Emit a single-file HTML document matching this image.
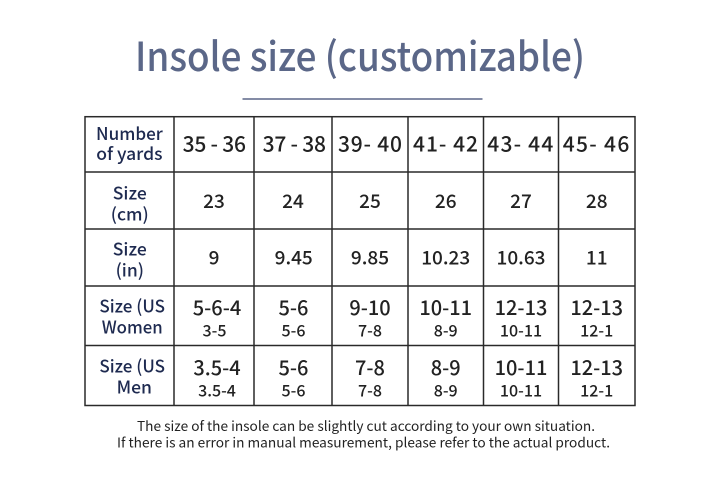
<!DOCTYPE html>
<html>
<head>
<meta charset="utf-8">
<style>
html,body{margin:0;padding:0;background:#fff;}
svg{display:block;}
text{font-family:"Noto Sans CJK SC","Liberation Sans",sans-serif;font-weight:500;}
.lab{fill:#1e2a50;font-size:17.5px;}
.hd{fill:#222;font-size:21px;}
.v{fill:#222;font-size:19px;}
.b{fill:#222;font-size:20px;}
.s{fill:#222;font-size:16px;}
.fn{font-weight:400;}
</style>
</head>
<body>
<svg width="715" height="477" viewBox="0 0 715 477" xmlns="http://www.w3.org/2000/svg">
<rect width="715" height="477" fill="#fff"/>
<text x="360" y="71" text-anchor="middle" font-size="40" fill="#5b6788" textLength="450" lengthAdjust="spacingAndGlyphs">Insole size (customizable)</text>
<line x1="242.5" y1="99" x2="482.5" y2="99" stroke="#5b6788" stroke-width="1.6"/>

<g stroke="#2a2a2a" stroke-width="1.5" fill="none">
<rect x="85" y="116.7" width="550" height="288.8"/>
<line x1="174" y1="116.7" x2="174" y2="405.5"/>
<line x1="254" y1="116.7" x2="254" y2="405.5"/>
<line x1="332" y1="116.7" x2="332" y2="405.5"/>
<line x1="408" y1="116.7" x2="408" y2="405.5"/>
<line x1="483.5" y1="116.7" x2="483.5" y2="405.5"/>
<line x1="558.5" y1="116.7" x2="558.5" y2="405.5"/>
<line x1="85" y1="172" x2="635" y2="172"/>
<line x1="85" y1="229" x2="635" y2="229"/>
<line x1="85" y1="286" x2="635" y2="286"/>
<line x1="85" y1="345.5" x2="635" y2="345.5"/>
</g>

<g text-anchor="middle">
<text class="lab" x="129.4" y="140" textLength="66.7" lengthAdjust="spacingAndGlyphs">Number</text>
<text class="lab" x="129.4" y="160">of yards</text>
<text class="hd" x="214.3" y="151.7" textLength="63.3" lengthAdjust="spacing">35 - 36</text>
<text class="hd" x="294.3" y="151.7" textLength="63.3" lengthAdjust="spacing">37 - 38</text>
<text class="hd" x="370" y="151.7" textLength="64" lengthAdjust="spacing">39- 40</text>
<text class="hd" x="445.5" y="151.7" textLength="65" lengthAdjust="spacing">41- 42</text>
<text class="hd" x="520.3" y="151.7" textLength="66" lengthAdjust="spacing">43- 44</text>
<text class="hd" x="596" y="151.7" textLength="66.6" lengthAdjust="spacing">45- 46</text>

<text class="lab" x="129.8" y="199.3">Size</text>
<text class="lab" x="129.8" y="220.3">(cm)</text>
<text class="v" x="214" y="208">23</text>
<text class="v" x="293" y="208">24</text>
<text class="v" x="370" y="208">25</text>
<text class="v" x="445.7" y="208">26</text>
<text class="v" x="521" y="208">27</text>
<text class="v" x="596.7" y="208">28</text>

<text class="lab" x="129.8" y="255.3">Size</text>
<text class="lab" x="129.8" y="276.3">(in)</text>
<text class="v" x="214" y="264.3">9</text>
<text class="v" x="293.7" y="264.3">9.45</text>
<text class="v" x="370" y="264.3">9.85</text>
<text class="v" x="445.7" y="264.3">10.23</text>
<text class="v" x="521" y="264.3">10.63</text>
<text class="v" x="596.7" y="264.3">11</text>

<text class="lab" x="132.2" y="312.3" textLength="65.7" lengthAdjust="spacingAndGlyphs">Size (US</text>
<text class="lab" x="132.2" y="333.3" textLength="61" lengthAdjust="spacingAndGlyphs">Women</text>
<text class="b" x="217" y="315">5-6-4</text>
<text class="b" x="293.5" y="315">5-6</text>
<text class="b" x="370" y="315">9-10</text>
<text class="b" x="445.7" y="315">10-11</text>
<text class="b" x="521" y="315">12-13</text>
<text class="b" x="596.7" y="315">12-13</text>
<text class="s" x="214.5" y="336.7">3-5</text>
<text class="s" x="293.5" y="336.7">5-6</text>
<text class="s" x="370" y="336.7">7-8</text>
<text class="s" x="445.7" y="336.7">8-9</text>
<text class="s" x="521" y="336.7">10-11</text>
<text class="s" x="596.7" y="336.7">12-1</text>

<text class="lab" x="132.2" y="372.3" textLength="65.7" lengthAdjust="spacingAndGlyphs">Size (US</text>
<text class="lab" x="134.3" y="393.3">Men</text>
<text class="b" x="217" y="375">3.5-4</text>
<text class="b" x="293.5" y="375">5-6</text>
<text class="b" x="370" y="375">7-8</text>
<text class="b" x="445.7" y="375">8-9</text>
<text class="b" x="521" y="375">10-11</text>
<text class="b" x="596.7" y="375">12-13</text>
<text class="s" x="217" y="396.7">3.5-4</text>
<text class="s" x="293.5" y="396.7">5-6</text>
<text class="s" x="370" y="396.7">7-8</text>
<text class="s" x="445.7" y="396.7">8-9</text>
<text class="s" x="521" y="396.7">10-11</text>
<text class="s" x="596.7" y="396.7">12-1</text>

<text class="fn" x="366" y="431" font-size="13.5" fill="#222" textLength="458" lengthAdjust="spacingAndGlyphs">The size of the insole can be slightly cut according to your own situation.</text>
<text class="fn" x="363.5" y="447.7" font-size="13.5" fill="#222" textLength="493" lengthAdjust="spacingAndGlyphs">If there is an error in manual measurement, please refer to the actual product.</text>
</g>
</svg>
</body>
</html>
